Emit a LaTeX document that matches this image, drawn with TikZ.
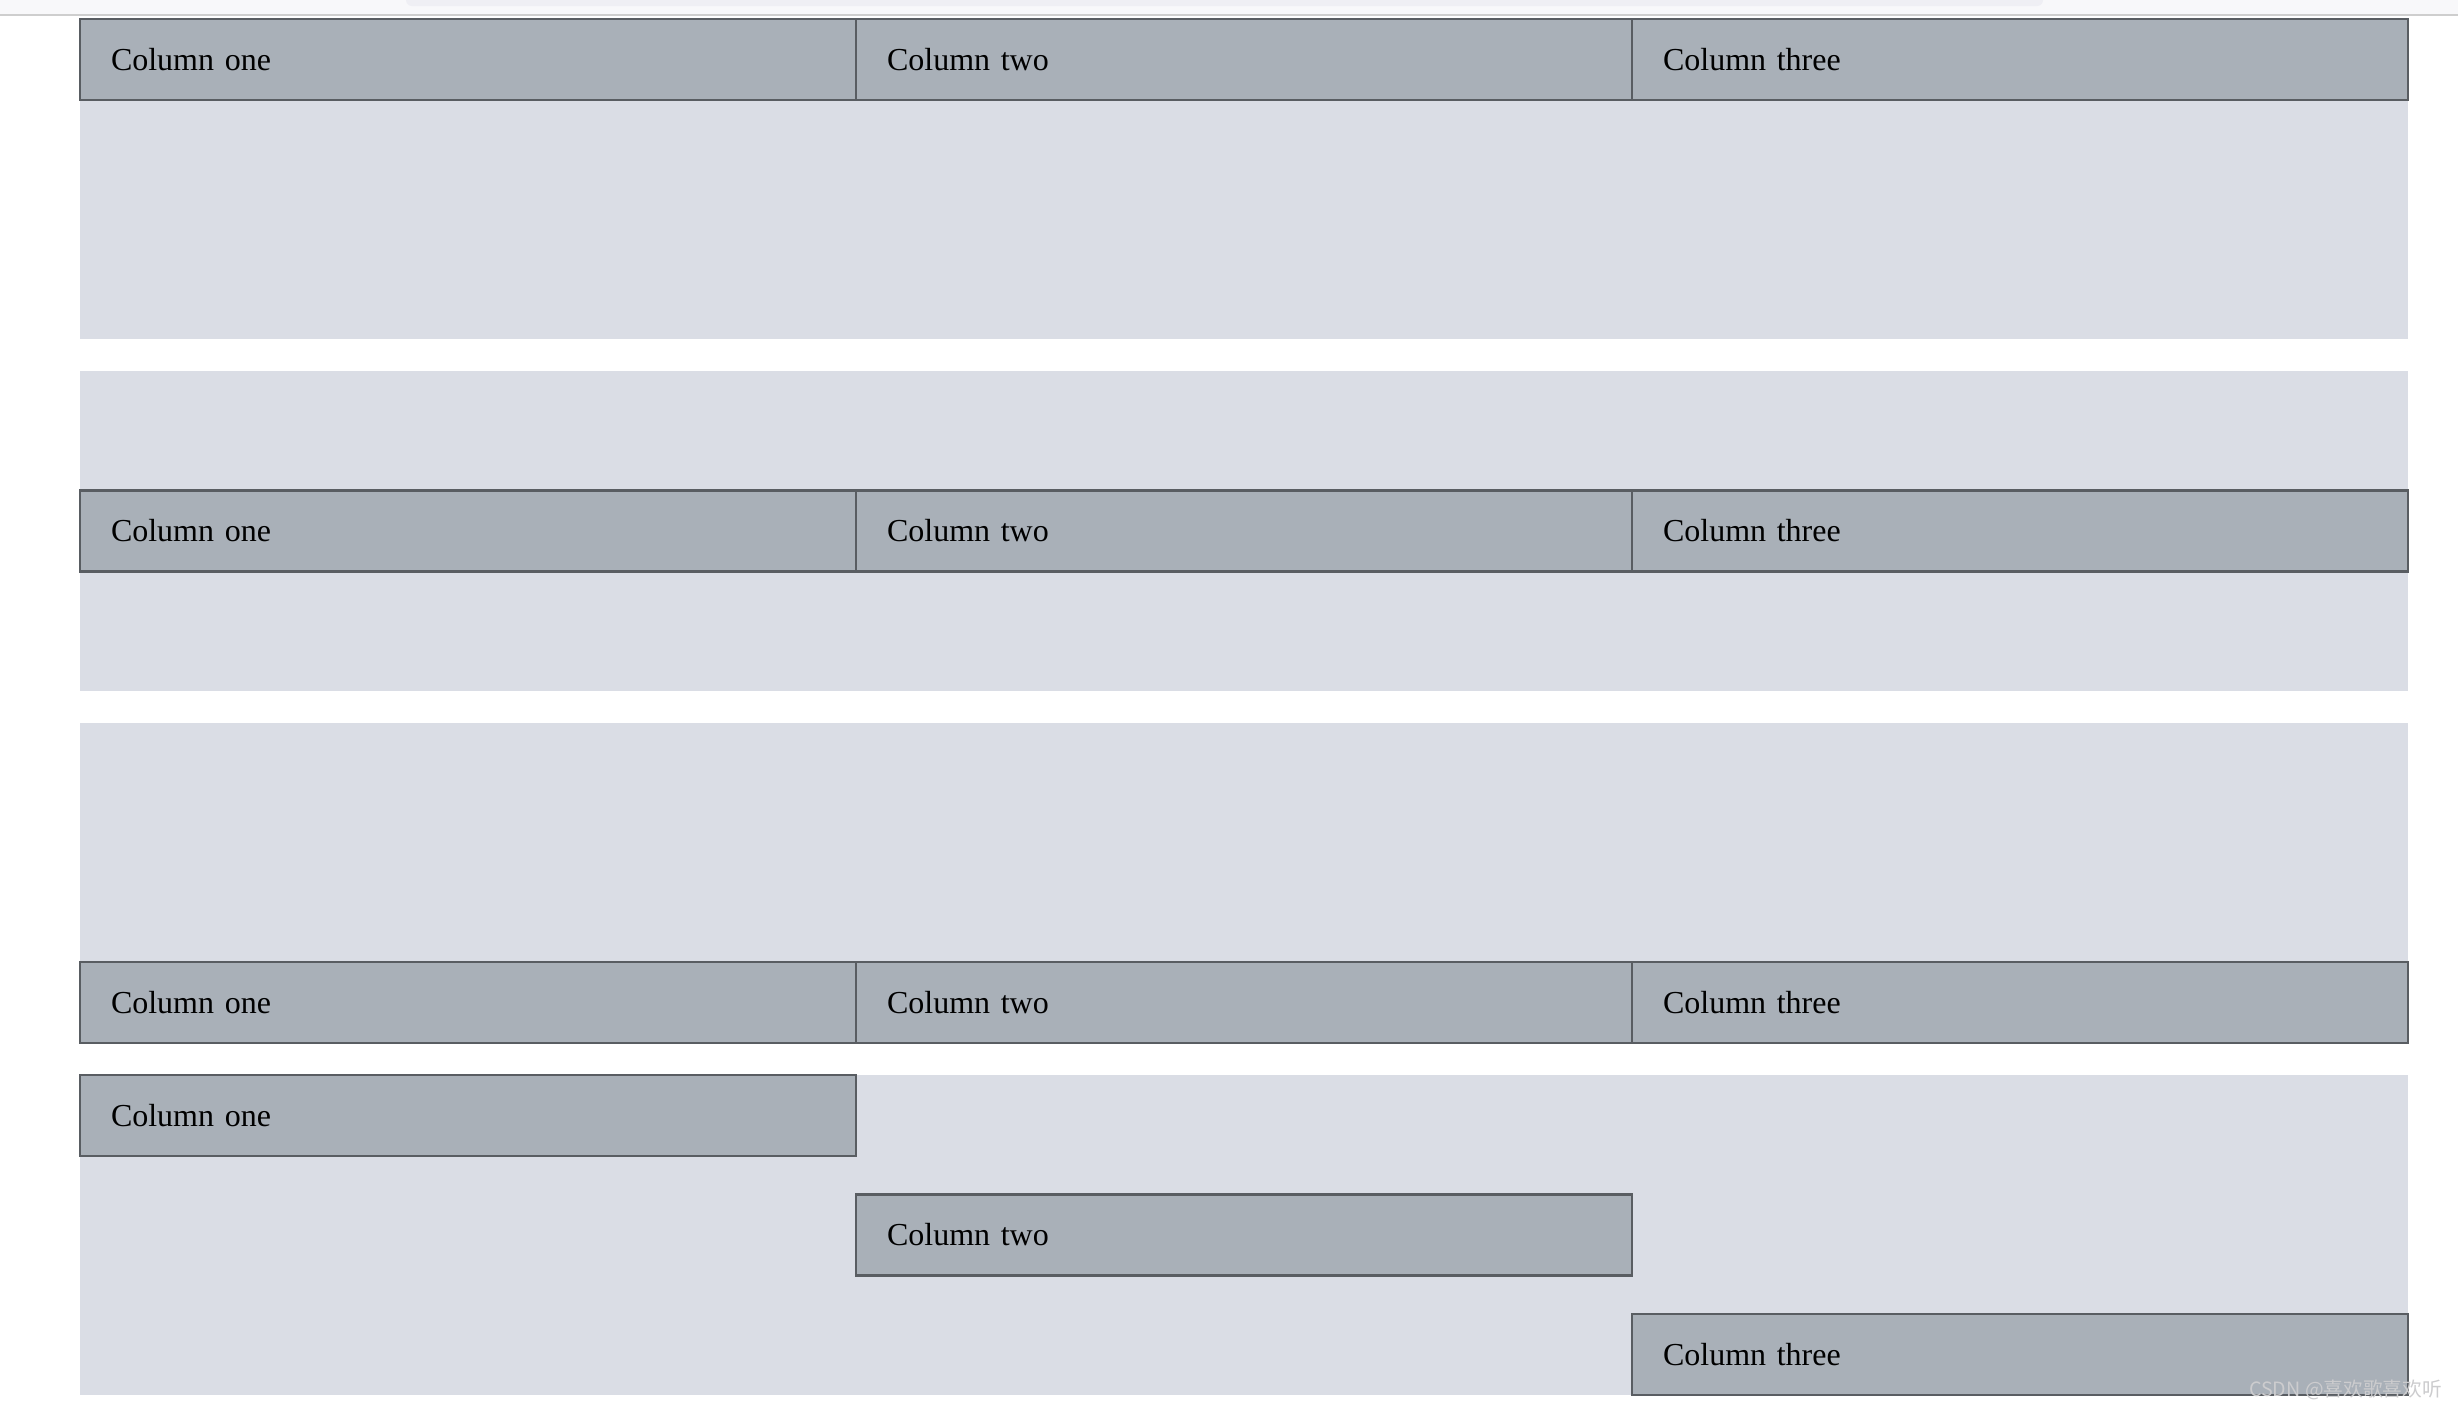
\documentclass[tikz,border=0pt]{standalone}
\usepackage{fontspec}
\setmainfont{Liberation Serif}
\newfontfamily\cjkfont{Noto Sans CJK SC}
\usetikzlibrary{positioning}
\definecolor{cellfill}{RGB}{169,176,184}
\definecolor{celledge}{RGB}{89,93,98}
\definecolor{panelfill}{RGB}{218,221,229}
\definecolor{barfill}{RGB}{248,248,250}
\definecolor{tabfill}{RGB}{239,239,244}
\definecolor{barline}{RGB}{206,206,206}
\definecolor{markgray}{RGB}{204,204,206}
\tikzstyle{panel} = [rectangle, fill=panelfill, minimum width=582mm, minimum height=80mm, inner sep=0pt, outer sep=0pt]
\tikzstyle{cell} = [rectangle, draw=celledge, fill=cellfill, line width=0.55mm, minimum height=20.25mm, text width=178.5mm, inner xsep=7.75mm, inner ysep=0pt, outer sep=0pt, align=left, font=\fontsize{22.76pt}{27pt}\selectfont]

\begin{document}
\begin{tikzpicture}[x=0.25mm, y=-0.25mm]
    \useasboundingbox (0,0) rectangle (2458,1407);
    \fill[white] (0,0) rectangle (2458,1407);
    \fill[barfill] (0,0) rectangle (2458,14);
    \fill[tabfill, rounded corners=1.5mm] (406,-6) rectangle (2043,6);
    \fill[barline] (0,14) rectangle (2458,16);

    \node (bg1) [panel, anchor=north west] at (80,19) {};
    \node (bg2) [panel, anchor=north west] at (80,371) {};
    \node (bg3) [panel, anchor=north west] at (80,723) {};
    \node (bg4) [panel, anchor=north west] at (80,1075) {};

    \node (a1) [cell, anchor=north west] at (bg1.north west) {Column one};
    \node (a2) [cell, right=0pt of a1] {Column two};
    \node (a3) [cell, right=0pt of a2] {Column three};

    \node (b1) [cell, anchor=west] at (bg2.west) {Column one};
    \node (b2) [cell, right=0pt of b1] {Column two};
    \node (b3) [cell, right=0pt of b2] {Column three};

    \node (c1) [cell, anchor=south west] at (bg3.south west) {Column one};
    \node (c2) [cell, right=0pt of c1] {Column two};
    \node (c3) [cell, right=0pt of c2] {Column three};

    \node (d1) [cell, anchor=north west] at (bg4.north west) {Column one};
    \node (d2) [cell] at (bg4.center) {Column two};
    \node (d3) [cell, anchor=south east] at (bg4.south east) {Column three};

    \node (mark) [text=markgray, inner sep=0pt, anchor=base east, font=\cjkfont\fontsize{14pt}{16pt}\selectfont] at (2442,1396) {CSDN @喜欢歌喜欢听};
\end{tikzpicture}
\end{document}
